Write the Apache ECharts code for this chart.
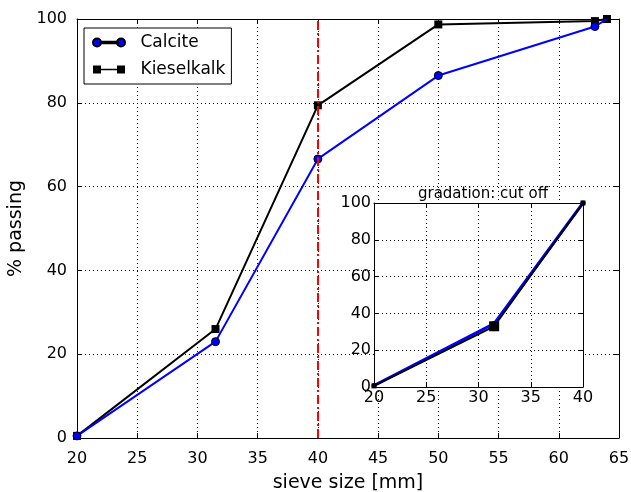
<!DOCTYPE html>
<html lang="en">
<head>
  <meta charset="UTF-8">
  <title>Sieve curve</title>
  <style>
      html, body { margin: 0; padding: 0; background: #fff; }
      #chart { width: 631px; height: 492px; }
  </style>
</head>
<body>
<div id="chart"></div>

<script src="https://cdn.jsdelivr.net/npm/echarts@6/dist/echarts.min.js"></script>
<script>

  // sieve sizes [mm] and % passing
  const sieve = [20, 31.5, 40, 50, 63, 64];
  const calcite = [0.5, 23.0, 66.6, 86.5, 98.2, 100];
  const kieselkalk = [0.5, 26.0, 79.4, 98.7, 99.5, 100];

  // inset: cut off at 40 mm
  const sieveCut = [20, 31.5, 40];
  const calciteCut = [0.8, 34.5, 100];
  const kieselkalkCut = [0.6, 33.0, 100];

  const cutoff = 40;
  const xTicks = [20, 65, 5];
  const yTicks = [0, 100, 20];
  const insetXTicks = [20, 40, 5];

  const font = 'DejaVu Sans';

  // legend icons: marker - line - marker, like matplotlib
  const circleIcon = 'path://M0,4a4,4 0 1,0 8,0a4,4 0 1,0 -8,0Z M7,3.2L25,3.2L25,4.8L7,4.8Z M24,4a4,4 0 1,0 8,0a4,4 0 1,0 -8,0Z';
  const squareIcon = 'path://M0,0L8,0L8,8L0,8Z M7,3.2L25,3.2L25,4.8L7,4.8Z M24,0L32,0L32,8L24,8Z';

  function pairs(xs, ys) {
    return xs.map((x, i) => [x, ys[i]]);
  }

  function valueAxis(range, grid, pos, opts) {
    return Object.assign({
      type: 'value',
      gridIndex: grid,
      position: pos,
      min: range[0],
      max: range[1],
      interval: range[2],
      axisLine: { show: true, onZero: false, lineStyle: { color: '#000', width: 1 } },
      axisTick: { show: true, inside: true, length: 5, lineStyle: { color: '#000' } },
      axisLabel: { show: false },
      splitLine: { show: false }
    }, opts || {});
  }

  const labelStyle = (size, margin) => ({ show: true, color: '#000', fontFamily: font, fontSize: size, margin: margin });
  const gridStyle = { show: true, lineStyle: { color: '#000', type: [1, 3], width: 1 } };

  const chart = echarts.init(document.getElementById('chart'));
  chart.setOption({
    animation: false,
    backgroundColor: '#fff',
    grid: [
      { left: 77, right: 12, top: 19, bottom: 54, outerBoundsMode: 'none' },
      { left: 374, width: 209, top: 203, height: 184, outerBoundsMode: 'none', show: true, backgroundColor: '#fff', borderWidth: 0, z: 5 }
    ],
    legend: {
      orient: 'vertical',
      left: 84,
      top: 28,
      padding: [6, 6, 6, 8],
      itemGap: 10,
      itemWidth: 33,
      itemHeight: 8,
      borderColor: '#000',
      borderWidth: 1,
      borderRadius: 0,
      backgroundColor: '#fff',
      textStyle: { fontFamily: font, fontSize: 17, color: '#000', padding: [0, 0, 0, 10] },
      data: [
        { name: 'Calcite', icon: circleIcon },
        { name: 'Kieselkalk', icon: squareIcon }
      ]
    },
    title: {
      text: 'gradation: cut off',
      left: 478, top: 182,
      textAlign: 'center',
      textStyle: { fontFamily: font, fontSize: 15, fontWeight: 'normal', color: '#000' }
    },
    xAxis: [
      valueAxis(xTicks, 0, 'bottom', {
        axisLabel: labelStyle(16, 13), splitLine: gridStyle,
        name: 'sieve size [mm]', nameLocation: 'middle', nameGap: 36,
        nameTextStyle: { fontFamily: font, fontSize: 19, color: '#000' }
      }),
      valueAxis(xTicks, 0, 'top'),
      valueAxis(insetXTicks, 1, 'bottom', { axisLabel: labelStyle(16, 3), splitLine: gridStyle, z: 6 }),
      valueAxis(insetXTicks, 1, 'top', { z: 6 })
    ],
    yAxis: [
      valueAxis(yTicks, 0, 'left', {
        axisLabel: labelStyle(16, 10), splitLine: gridStyle,
        name: '% passing', nameLocation: 'middle', nameGap: 41,
        nameTextStyle: { fontFamily: font, fontSize: 19, color: '#000' }
      }),
      valueAxis(yTicks, 0, 'right'),
      valueAxis(yTicks, 1, 'left', { axisLabel: labelStyle(16, 3), splitLine: gridStyle, z: 6 }),
      valueAxis(yTicks, 1, 'right', { z: 6 })
    ],
    series: [
      {
        name: 'Calcite', type: 'line', xAxisIndex: 0, yAxisIndex: 0,
        data: pairs(sieve, calcite),
        symbol: 'circle',
        // last circle sits under the Kieselkalk square at the top edge
        symbolSize: (v) => (v[1] >= 100 ? 0 : 8),
        lineStyle: { color: '#0000ff', width: 2 },
        itemStyle: { color: '#0000ff', borderColor: '#000', borderWidth: 1 },
        markLine: {
          silent: true, symbol: 'none', label: { show: false },
          lineStyle: { color: '#ff0000', width: 2, type: [9, 3, 2, 3] },
          data: [{ xAxis: cutoff }]
        },
        z: 3
      },
      {
        name: 'Kieselkalk', type: 'line', xAxisIndex: 0, yAxisIndex: 0,
        data: pairs(sieve, kieselkalk),
        symbol: 'rect', symbolSize: 8,
        lineStyle: { color: '#000', width: 2 },
        itemStyle: { color: '#000' },
        z: 2
      },
      {
        name: 'Calcite cut', type: 'line', xAxisIndex: 2, yAxisIndex: 2,
        data: pairs(sieveCut, calciteCut),
        symbol: 'circle', symbolSize: 5,
        lineStyle: { color: '#0000ff', width: 3 },
        itemStyle: { color: '#0000ff' },
        z: 7
      },
      {
        name: 'Kieselkalk cut', type: 'line', xAxisIndex: 2, yAxisIndex: 2,
        data: pairs(sieveCut, kieselkalkCut),
        symbol: 'rect',
        symbolSize: (v) => (v[0] === sieveCut[1] ? 10 : 5),
        lineStyle: { color: '#000', width: 2 },
        itemStyle: { color: '#000' },
        z: 8
      }
    ]
  });

</script>
</body>
</html>
